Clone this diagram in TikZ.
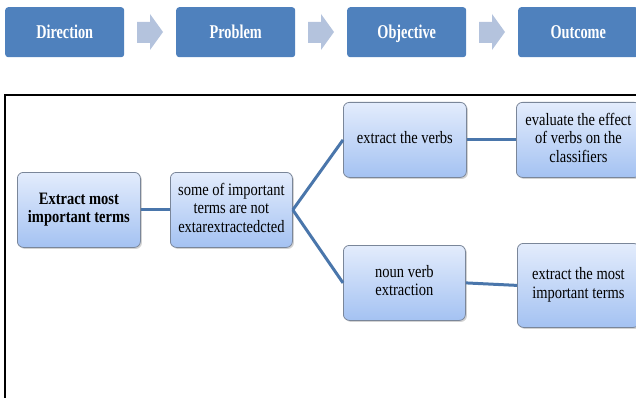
\documentclass[tikz,border=0pt]{standalone}
\usepackage{graphicx}
\usepackage{fontspec}
\setmainfont{Liberation Serif}
\usetikzlibrary{shadows}
\definecolor{topblue}{HTML}{4F81BD}
\definecolor{arrowblue}{HTML}{B4C3DD}
\definecolor{lighttop}{HTML}{E3ECFC}
\definecolor{lightbot}{HTML}{A4C2F2}
\definecolor{boxedge}{HTML}{7A8699}
\definecolor{linkblue}{HTML}{4A76AB}
\newcommand\talltext[1]{\scalebox{1}[1.2]{\begin{tabular}{@{}c@{}}#1\end{tabular}}}
\newcommand\headtext[1]{\scalebox{0.95}[1.3]{#1}}
\begin{document}
\begin{tikzpicture}[x=1pt,y=-1pt,
  headbox/.style={fill=topblue, draw=none, rounded corners=3pt, minimum width=119pt, minimum height=50pt, anchor=north west, text=white, text height=16pt, text depth=3pt, font=\fontsize{15}{17}\selectfont\bfseries},
  stepbox/.style={draw=boxedge, line width=0.8pt, rounded corners=6pt, top color=lighttop, bottom color=lightbot, drop shadow={opacity=0.35, shadow xshift=1.5pt, shadow yshift=-1.5pt}, anchor=north west, align=center, inner sep=2pt, font=\fontsize{14.5}{15.5}\selectfont},
  link/.style={draw=linkblue, line width=3pt},
  chev/.style={fill=arrowblue, draw=none}
]
\useasboundingbox (0,0) rectangle (636,398);
% header row
\node[headbox] (dir) at (5,7) {\headtext{Direction}};
\node[headbox] (prob) at (176,7) {\headtext{Problem}};
\node[headbox] (obj) at (347,7) {\headtext{Objective}};
\node[headbox, minimum width=120pt] (out) at (518,7) {\headtext{Outcome}};
\foreach \x in {137,308,479} {
  \path[chev] (\x,22) -- (\x+13,22) -- (\x+13,14) -- (\x+26,32) -- (\x+13,50) -- (\x+13,43) -- (\x,43) -- cycle;
}
% frame
\draw[line width=1.5pt] (5,402) -- (5,95) -- (640,95);
% nodes
\node[stepbox, minimum width=123pt, minimum height=75pt, font=\fontsize{14.5}{15.5}\selectfont\bfseries] (a) at (17,172) {\talltext{Extract most\\important terms}};
\node[stepbox, minimum width=122pt, minimum height=75pt] (b) at (170,172) {\talltext{some of important\\terms are not\\extarextractedcted}};
\node[stepbox, minimum width=123pt, minimum height=75pt] (c) at (343,102) {\talltext{extract the verbs}};
\node[stepbox, minimum width=124pt, minimum height=75pt] (d) at (516,102) {\talltext{evaluate the effect\\of verbs on the\\classifiers}};
\node[stepbox, minimum width=122pt, minimum height=75pt] (e) at (343,245) {\talltext{noun verb\\extraction}};
\node[stepbox, minimum width=122pt, minimum height=84pt] (f) at (517,243) {\talltext{extract the most\\important terms}};
% connectors
\draw[link] (a.east) -- (b.west);
\draw[link] (b.east) -- (c.west);
\draw[link] (b.east) -- (e.west);
\draw[link] (c.east) -- (d.west);
\draw[link] (e.east) -- (f.west);
\end{tikzpicture}
\end{document}
